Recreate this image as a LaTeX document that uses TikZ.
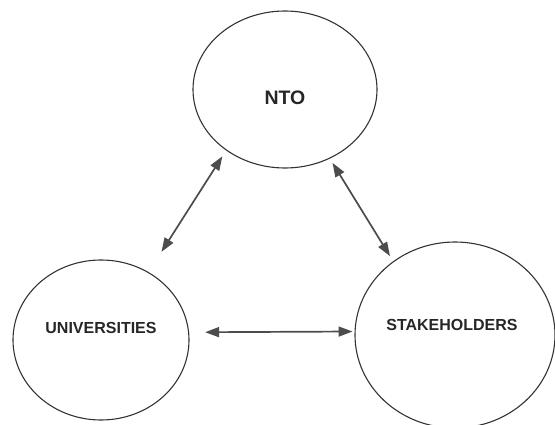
\documentclass[tikz,border=0pt]{standalone}
\usepackage{fontspec}
\setmainfont{Liberation Sans}
\usetikzlibrary{shapes.geometric,arrows.meta}

\begin{document}
\begin{tikzpicture}[x=1pt,y=-1pt,
	circ/.style={ellipse,draw=black!80,line width=1.1pt,inner sep=0pt},
	link/.style={{Triangle[length=14pt,width=10pt]}-{Triangle[length=14pt,width=10pt]},draw=black!70,line width=1.7pt},
	lbl/.style={font=\bfseries\fontsize{16}{18}\selectfont,text=black!85}]
	\useasboundingbox (0,0) rectangle (555,425);

	% the three bodies
	\node[circ,minimum width=184pt,minimum height=157pt] (nto) at (285,89.5) {};
	\node[circ,minimum width=176pt,minimum height=160pt] (uni) at (101,340) {};
	\node[circ,minimum width=200pt,minimum height=186pt] (stk) at (455,335) {};

	\node[lbl,font=\bfseries\fontsize{19.5}{22}\selectfont] (ntolbl) at ([yshift=-8.5pt]nto.center) {NTO};
	\node[lbl] (unilbl) at ([yshift=12pt]uni.center) {UNIVERSITIES};
	\node[lbl] (stklbl) at ([yshift=10pt,xshift=-3pt]stk.center) {STAKEHOLDERS};

	% links
	\draw[link,shorten <=7pt,shorten >=24pt] (nto.226) -- (uni.55);
	\draw[link,shorten <=5pt,shorten >=6pt] (nto.303.5) -- (stk.130);
	\draw[link,shorten <=16pt,shorten >=2pt] (uni.5) -- (stk.178);
\end{tikzpicture}
\end{document}
